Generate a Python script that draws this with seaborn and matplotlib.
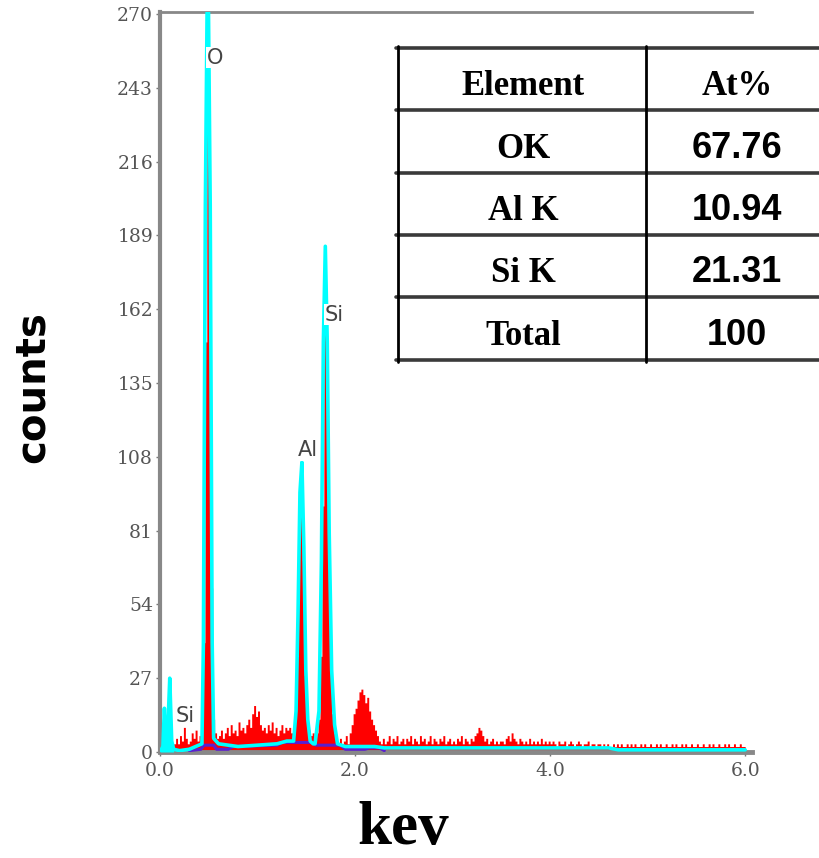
import numpy as np
import pandas as pd
import matplotlib
matplotlib.use("Agg")
import matplotlib.pyplot as plt
import seaborn as sns

# ---- EDS spectrum data -------------------------------------------------
# channel width 0.02 keV, channels start at 0.00 keV
channel_width = 0.02
spectrum_counts = [
    1, 1, 2, 3, 4, 3, 2, 3, 5, 3, 6, 4, 9, 5, 3, 4, 7, 5, 8, 4, 6, 10, 40, 150, 280,          # 0.00-0.48
    200, 60, 12, 7, 5, 6, 8, 5, 7, 9, 6, 10, 7, 8, 6, 11, 8, 9, 7, 10, 12, 9, 14, 17, 13,     # 0.50-0.98
    15, 10, 8, 9, 7, 10, 8, 11, 7, 9, 6, 8, 10, 7, 9, 8, 9, 7, 8, 12, 35, 85, 104, 70, 28,    # 1.00-1.48
    12, 8, 6, 7, 5, 7, 12, 35, 90, 170, 150, 80, 35, 14, 7, 4, 3, 5, 3, 4, 6, 3, 7, 10, 14,   # 1.50-1.98
    16, 19, 22, 23, 21, 18, 20, 15, 12, 10, 8, 6, 4, 3, 5, 3, 4, 6, 3, 5, 4, 6, 3, 4, 5,      # 2.00-2.48
    3, 5, 4, 6, 3, 5, 4, 3, 6, 4, 5, 3, 4, 6, 3, 5, 4, 3, 5, 4, 6, 3, 4, 5, 3,                # 2.50-2.98
    4, 3, 5, 4, 6, 3, 5, 4, 3, 5, 4, 6, 7, 9, 8, 6, 4, 5, 3, 4, 5, 3, 4, 3, 4,                # 3.00-3.48
    4, 3, 5, 6, 4, 7, 5, 4, 3, 5, 4, 3, 4, 3, 5, 3, 4, 3, 4, 3, 5, 3, 4, 3, 4,                # 3.50-3.98
    3, 4, 3, 2, 4, 3, 3, 4, 2, 3, 4, 3, 2, 3, 4, 3, 2, 3, 3, 4, 2, 3, 3, 2, 3,                # 4.00-4.48
    3, 2, 3, 2, 3, 2, 2, 3, 2, 3, 2, 3, 2, 2, 3, 2, 3, 2, 3, 2, 2, 3, 2, 3, 2,                # 4.50-4.98
    2, 3, 2, 2, 3, 2, 3, 2, 2, 3, 2, 2, 3, 2, 3, 2, 2, 3, 2, 3, 2, 2, 3, 2, 2,                # 5.00-5.48
    3, 2, 2, 3, 2, 2, 3, 2, 3, 2, 2, 3, 2, 2, 3, 2, 3, 2, 2, 3, 2, 2, 3, 2, 2,                # 5.50-5.98
]

# fitted peak envelope (keV, counts)
fit_kev = [0.00, 0.03, 0.045, 0.06, 0.08, 0.10, 0.12, 0.14, 0.20, 0.30, 0.43,
           0.445, 0.465, 0.49, 0.515, 0.535, 0.55, 0.60, 0.80, 1.00, 1.20, 1.30,
           1.37, 1.395, 1.415, 1.435, 1.455, 1.475, 1.495, 1.515, 1.54, 1.57,
           1.59, 1.63, 1.655, 1.675, 1.695, 1.715, 1.735, 1.76, 1.79, 1.82,
           1.90, 2.20, 2.30, 4.60, 4.70, 6.00]
fit_counts = [0, 2, 16, 4, 8, 27, 4, 1, 0.5, 1, 3,
              40, 200, 300, 200, 40, 5, 3, 2, 2.5, 3, 4,
              4, 15, 50, 95, 106, 75, 30, 12, 4, 3,
              3, 15, 70, 150, 185, 150, 80, 30, 10, 3,
              2, 2, 1.5, 1.5, 0.8, 0.8]

# background estimate (keV, counts)
bkg_kev = [0.30, 0.42, 0.45, 0.55, 0.58, 0.70, 0.75, 1.20, 1.25, 1.55, 1.60,
           1.85, 1.90, 2.10, 2.15, 2.25, 2.30]
bkg_counts = [0.5, 1, 2.5, 2.5, 1, 1, 2, 2.5, 3.5, 3.5, 2.5,
              2.5, 1, 1, 1.5, 1.5, 0.5]

# peak labels (element, keV, counts)
peak_names = ["O", "Si", "Al", "Si"]
peak_kev = [0.565, 1.785, 1.52, 0.26]
peak_counts = [254, 160, 110.5, 13]

# quantification table
table_header = ["Element", "At%"]
table_elements = ["OK", "Al K", "Si K", "Total"]
table_atpct = ["67.76", "10.94", "21.31", "100"]

y_ticks = [0, 27, 54, 81, 108, 135, 162, 189, 216, 243, 270]
x_ticks = [0.0, 2.0, 4.0, 6.0]
x_ticklabels = ["0.0", "2.0", "4.0", "6.0"]

# ---- figure --------------------------------------------------------------
sns.set_theme(style="white")
plt.rcParams["font.family"] = ["DejaVu Sans"]

W, H = 819, 858
fig = plt.figure(figsize=(W / 100, H / 100), dpi=100)
ax = fig.add_axes([160 / W, 1 - 752 / H, 592 / W, 740 / H])

n = len(spectrum_counts)
centers = (np.arange(n) + 0.5) * channel_width
spec = pd.DataFrame({"kev": centers, "counts": spectrum_counts})

sns.histplot(data=spec, x="kev", weights="counts", binwidth=channel_width,
             binrange=(0, n * channel_width), element="step",
             fill=True, color="#ff0000", alpha=1.0, linewidth=0, ax=ax, zorder=2)

fit = pd.DataFrame({"kev": fit_kev, "counts": fit_counts})
low = fit[fit["kev"] <= 0.14]
ax.fill_between(low["kev"], 0, low["counts"], color="#00ffff", lw=0, zorder=3)

bkg = pd.DataFrame({"kev": bkg_kev, "counts": bkg_counts})
sns.lineplot(data=bkg, x="kev", y="counts", color="#5a1fd0", lw=2.2,
             sort=False, estimator=None, ax=ax, zorder=4)
sns.lineplot(data=fit, x="kev", y="counts", color="#00ffff", lw=2.6,
             sort=False, estimator=None, ax=ax, zorder=5)

for name, kx, ky in zip(peak_names, peak_kev, peak_counts):
    ax.text(kx, ky, name, ha="center", va="center", fontsize=15,
            color="#444444", zorder=6,
            bbox=dict(facecolor="white", edgecolor="none", pad=0.5))

ax.set_xlim(0, 6.07)
ax.set_ylim(0, 270.7)
ax.set_xticks(x_ticks)
ax.set_xticklabels(x_ticklabels)
ax.set_yticks(y_ticks)
ax.set_yticklabels([str(v) for v in y_ticks])
ax.set_xlabel("")
ax.set_ylabel("")
ax.tick_params(axis="both", which="both", length=3, width=1, color="#777777",
               labelcolor="#555555", labelsize=13.5, direction="out")
ax.tick_params(axis="x", pad=4, bottom=True)
ax.tick_params(axis="y", pad=2, left=True)
for lab in ax.get_xticklabels() + ax.get_yticklabels():
    lab.set_fontfamily("DejaVu Serif")

for side in ["left", "bottom", "top"]:
    ax.spines[side].set_visible(True)
    ax.spines[side].set_color("#888888")
ax.spines["left"].set_linewidth(3)
ax.spines["bottom"].set_linewidth(3.5)
ax.spines["top"].set_linewidth(2)
ax.spines["right"].set_visible(False)
ax.set_facecolor("white")

# axis titles
fig.text(33 / W, 1 - 387 / H, "counts", rotation=90, ha="center", va="center",
         fontsize=29, fontweight="bold", family="DejaVu Sans", color="black")
fig.text(403 / W, 1 - 844 / H, "kev", ha="center", va="baseline",
         fontsize=44, fontweight="bold", family="Liberation Serif", color="black")

# ---- quantification table -----------------------------------------------
row_lines = [48, 110, 173, 235, 297, 360]
tab_left, tab_mid, tab_right = 396, 646, 819
for yl in row_lines:
    fig.add_artist(plt.Line2D([tab_left / W, tab_right / W], [1 - yl / H, 1 - yl / H],
                              color="#3a3a3a", lw=2.6, transform=fig.transFigure))
for xv in [398, tab_mid]:
    fig.add_artist(plt.Line2D([xv / W, xv / W], [1 - 46 / H, 1 - 362 / H],
                              color="black", lw=2, transform=fig.transFigure))

col1_x, col2_x = 523, 737
rows_left = [table_header[0]] + table_elements
rows_right = [table_header[1]] + table_atpct
for i, (lt, rt) in enumerate(zip(rows_left, rows_right)):
    base = row_lines[i + 1] - 15
    fig.text(col1_x / W, 1 - base / H, lt, ha="center", va="baseline",
             fontsize=25, fontweight="bold", family="Liberation Serif", color="black")
    if i == 0:
        fig.text(col2_x / W, 1 - base / H, rt, ha="center", va="baseline",
                 fontsize=25, fontweight="bold", family="Liberation Serif", color="black")
    else:
        fig.text(col2_x / W, 1 - base / H, rt, ha="center", va="baseline",
                 fontsize=26, fontweight="bold", family="Liberation Sans", color="black")

fig.savefig("out.png", dpi=100, facecolor="white")
